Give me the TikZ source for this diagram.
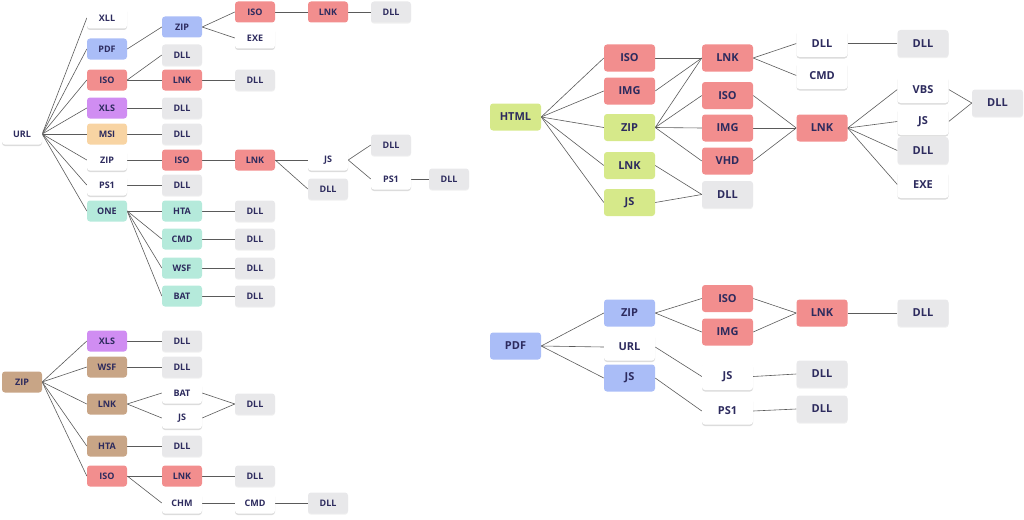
\documentclass[tikz,border=0pt]{standalone}
\usepackage{fontspec}
\setmainfont{Open Sans}
\usetikzlibrary{shadows,backgrounds}
\definecolor{txt}{HTML}{2D2B5E}
\definecolor{lc}{HTML}{5A5A5A}
\definecolor{cpink}{HTML}{F28E8E}
\definecolor{cblue}{HTML}{AABDF7}
\definecolor{cpurple}{HTML}{D08DF2}
\definecolor{cpeach}{HTML}{F8D4A3}
\definecolor{cteal}{HTML}{B5EADB}
\definecolor{cgray}{HTML}{E8E8EA}
\definecolor{cgreen}{HTML}{D6E98A}
\definecolor{cbrown}{HTML}{C8A586}
\tikzset{
  base/.style={rounded corners=3pt, inner sep=0pt, text=txt},
  sn/.style={base, minimum width=40pt, minimum height=21pt, font=\fontsize{9}{10}\selectfont\bfseries},
  bn/.style={base, minimum width=51pt, minimum height=27pt, font=\fontsize{11}{12}\selectfont\bfseries},
  wh/.style={fill=white, drop shadow={shadow xshift=0pt, shadow yshift=-1.5pt, opacity=0.28}},
  gr/.style={fill=cgray, drop shadow={shadow xshift=0pt, shadow yshift=-1.2pt, opacity=0.12}},
  pk/.style={fill=cpink},
  bl/.style={fill=cblue},
  pu/.style={fill=cpurple},
  pe/.style={fill=cpeach},
  te/.style={fill=cteal},
  gn/.style={fill=cgreen},
  br/.style={fill=cbrown},
  ln/.style={draw=lc, line width=0.6pt},
}
\begin{document}
\begin{tikzpicture}[x=1pt,y=-1pt]
\useasboundingbox (0,0) rectangle (1024,519);
% ---------- left top tree ----------
\node[sn,wh] (url) at (22,134) {URL};
\node[sn,wh] (xll) at (107,18) {XLL};
\node[sn,bl] (pdf) at (107,49) {PDF};
\node[sn,pk] (iso1) at (107,80) {ISO};
\node[sn,pu] (xls) at (107,108) {XLS};
\node[sn,pe] (msi) at (107,134) {MSI};
\node[sn,wh] (zip1) at (107,160) {ZIP};
\node[sn,wh] (ps1) at (107,185) {PS1};
\node[sn,te] (one) at (107,211) {ONE};
\node[sn,bl] (zip2) at (182,27) {ZIP};
\node[sn,gr] (dlla) at (182,55) {DLL};
\node[sn,pk] (lnk2) at (182,80) {LNK};
\node[sn,gr] (dllb) at (182,108) {DLL};
\node[sn,gr] (dllc) at (182,134) {DLL};
\node[sn,pk] (iso2) at (182,160) {ISO};
\node[sn,gr] (dlld) at (182,185) {DLL};
\node[sn,te] (hta) at (182,211) {HTA};
\node[sn,te] (cmd) at (182,239) {CMD};
\node[sn,te] (wsf) at (182,268) {WSF};
\node[sn,te] (bat) at (182,296) {BAT};
\node[sn,pk] (iso3) at (255,12) {ISO};
\node[sn,wh] (exe) at (255,38) {EXE};
\node[sn,gr] (dlle) at (255,80) {DLL};
\node[sn,pk] (lnk3) at (255,160) {LNK};
\node[sn,gr] (dllf) at (255,211) {DLL};
\node[sn,gr] (dllg) at (255,239) {DLL};
\node[sn,gr] (dllh) at (255,268) {DLL};
\node[sn,gr] (dlli) at (255,296) {DLL};
\node[sn,pk] (lnk4) at (328,12) {LNK};
\node[sn,wh] (js4) at (328,160) {JS};
\node[sn,gr] (dllj) at (328,189) {DLL};
\node[sn,gr] (dllk) at (391,12) {DLL};
\node[sn,gr] (dlll) at (391,145) {DLL};
\node[sn,wh] (ps5) at (391,179) {PS1};
\node[sn,gr] (dllm) at (449,179) {DLL};
% ---------- left bottom tree ----------
\node[sn,br] (bzip) at (22,382) {ZIP};
\node[sn,pu] (bxls) at (107,341) {XLS};
\node[sn,br] (bwsf) at (107,367) {WSF};
\node[sn,br] (blnk) at (107,404) {LNK};
\node[sn,br] (bhta) at (107,446) {HTA};
\node[sn,pk] (biso) at (107,476) {ISO};
\node[sn,gr] (bdlla) at (182,341) {DLL};
\node[sn,gr] (bdllb) at (182,367) {DLL};
\node[sn,wh] (bbat) at (182,393) {BAT};
\node[sn,wh] (bjs) at (182,418) {JS};
\node[sn,gr] (bdllc) at (182,446) {DLL};
\node[sn,pk] (blnk2) at (182,476) {LNK};
\node[sn,wh] (bchm) at (182,503) {CHM};
\node[sn,gr] (bdlld) at (255,404) {DLL};
\node[sn,gr] (bdlle) at (255,476) {DLL};
\node[sn,wh] (bcmd) at (255,503) {CMD};
\node[sn,gr] (bdllf) at (328,503) {DLL};
% ---------- right top tree ----------
\node[bn,gn] (html) at (515.5,117) {HTML};
\node[bn,pk] (hiso) at (629.5,58) {ISO};
\node[bn,pk] (himg) at (629.5,91) {IMG};
\node[bn,gn] (hzip) at (629.5,127.5) {ZIP};
\node[bn,gn] (hlnk) at (629.5,165.5) {LNK};
\node[bn,gn] (hjs) at (629.5,202.5) {JS};
\node[bn,pk] (hlnk3) at (727.5,58) {LNK};
\node[bn,pk] (hiso3) at (727.5,95.5) {ISO};
\node[bn,pk] (himg3) at (727.5,128) {IMG};
\node[bn,pk] (hvhd) at (727.5,161) {VHD};
\node[bn,gr] (hdll3) at (727.5,194.5) {DLL};
\node[bn,wh] (hdll4) at (822,43.5) {DLL};
\node[bn,wh] (hcmd) at (822,75.5) {CMD};
\node[bn,pk] (hlnk4) at (822,128) {LNK};
\node[bn,gr] (hdll5) at (923,43.5) {DLL};
\node[bn,wh] (hvbs) at (923,89.5) {VBS};
\node[bn,wh] (hjs5) at (923,121.5) {JS};
\node[bn,gr] (hdll5b) at (923,150.5) {DLL};
\node[bn,wh] (hexe) at (923,184.5) {EXE};
\node[bn,gr] (hdll6) at (997.5,103) {DLL};
% ---------- right bottom tree ----------
\node[bn,bl] (ppdf) at (515.5,346) {PDF};
\node[bn,bl] (pzip) at (629.5,313) {ZIP};
\node[bn,wh] (purl) at (629.5,347) {URL};
\node[bn,bl] (pjs) at (629.5,378) {JS};
\node[bn,pk] (piso) at (727.5,298.5) {ISO};
\node[bn,pk] (pimg) at (727.5,332) {IMG};
\node[bn,wh] (pjs3) at (727.5,376.5) {JS};
\node[bn,wh] (pps1) at (727.5,411) {PS1};
\node[bn,pk] (plnk) at (822,313) {LNK};
\node[bn,gr] (pdllj) at (822,374) {DLL};
\node[bn,gr] (pdllp) at (822,409) {DLL};
\node[bn,gr] (pdll) at (923,313) {DLL};
% ---------- connectors ----------
\begin{scope}[on background layer]
\foreach \a/\b in {url/xll,url/pdf,url/iso1,url/xls,url/msi,url/zip1,url/ps1,url/one,
  pdf/zip2,zip2/iso3,zip2/exe,iso3/lnk4,lnk4/dllk,iso1/dlla,iso1/lnk2,lnk2/dlle,
  xls/dllb,msi/dllc,zip1/iso2,iso2/lnk3,lnk3/js4,lnk3/dllj,js4/dlll,js4/ps5,ps5/dllm,
  ps1/dlld,one/hta,one/cmd,one/wsf,one/bat,hta/dllf,cmd/dllg,wsf/dllh,bat/dlli,
  bzip/bxls,bzip/bwsf,bzip/blnk,bzip/bhta,bzip/biso,bxls/bdlla,bwsf/bdllb,
  blnk/bbat,blnk/bjs,bbat/bdlld,bjs/bdlld,bhta/bdllc,biso/blnk2,biso/bchm,
  blnk2/bdlle,bchm/bcmd,bcmd/bdllf,
  html/hiso,html/himg,html/hzip,html/hlnk,html/hjs,hiso/hlnk3,himg/hlnk3,
  hzip/hlnk3,hzip/hiso3,hzip/himg3,hzip/hvhd,hlnk/hdll3,hjs/hdll3,
  hlnk3/hdll4,hlnk3/hcmd,hdll4/hdll5,hiso3/hlnk4,himg3/hlnk4,hvhd/hlnk4,
  hlnk4/hvbs,hlnk4/hjs5,hlnk4/hdll5b,hlnk4/hexe,hvbs/hdll6,hjs5/hdll6,
  ppdf/pzip,ppdf/purl,ppdf/pjs,pzip/piso,pzip/pimg,piso/plnk,pimg/plnk,plnk/pdll,
  purl/pjs3,pjs/pps1,pjs3/pdllj,pps1/pdllp}
  \draw[ln] (\a.east) -- (\b.west);
\end{scope}
\end{tikzpicture}
\end{document}
